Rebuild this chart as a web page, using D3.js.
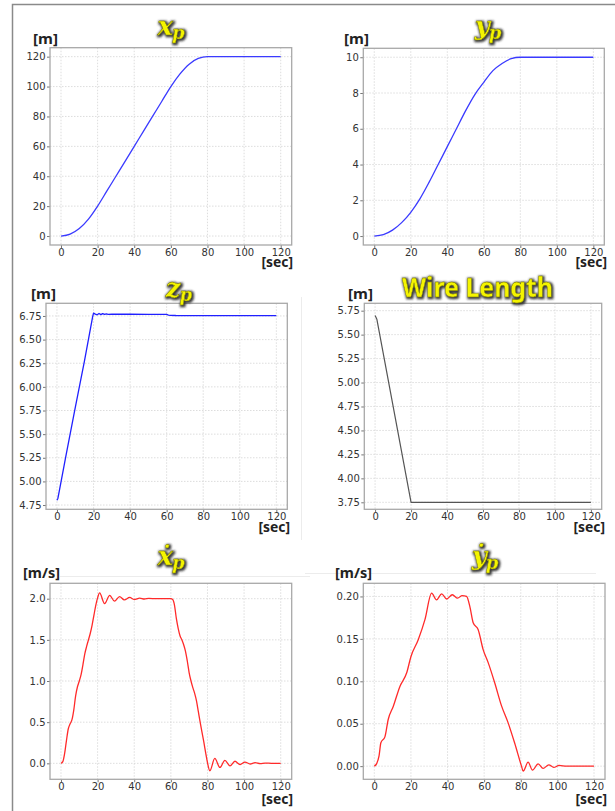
<!DOCTYPE html>
<html>
<head>
<meta charset="utf-8">
<script src="https://cdn.jsdelivr.net/npm/d3@7"></script>
<style>
  html, body { margin: 0; padding: 0; background: #fff; }
  svg { display: block; }
</style>
</head>
<body>
<svg id="chart" width="615" height="811"></svg>
<script>
// ---------------------------------------------
// data
// ---------------------------------------------
const xTicks = [0, 20, 40, 60, 80, 100, 120];

const xpTicks = [0, 20, 40, 60, 80, 100, 120];
const xpTime   = [0, 5, 10, 15, 20, 25, 30, 35, 40, 45, 50, 55, 60, 65, 70, 75, 80, 90, 100, 110, 120];
const xpValues = [0, 1.3, 5, 11.3, 20, 30, 40, 50, 60, 70, 80, 90, 100, 108.5, 115, 118.8, 120, 120, 120, 120, 120];

const ypTicks = [0, 2, 4, 6, 8, 10];
const ypTime   = [0, 5, 10, 15, 20, 25, 30, 35, 40, 45, 50, 55, 60, 65, 70, 75, 80, 90, 100, 110, 120];
const ypValues = [0, 0.08, 0.33, 0.75, 1.33, 2.08, 3.0, 4.0, 5.0, 6.0, 7.0, 7.9, 8.6, 9.25, 9.65, 9.92, 10, 10, 10, 10, 10];

const zpTicks = [4.75, 5.00, 5.25, 5.50, 5.75, 6.00, 6.25, 6.50, 6.75];
const zpTime   = [0, 0.5, 1, 5, 10, 15, 19.5, 20, 21, 22, 23, 24, 25, 26, 27, 28, 30, 35, 40, 50, 60, 61, 62, 65, 80, 100, 120];
const zpValues = [4.80, 4.82, 4.87, 5.28, 5.78, 6.27, 6.74, 6.78, 6.77, 6.762, 6.776, 6.764, 6.775, 6.766, 6.772, 6.767, 6.770, 6.768, 6.768, 6.767, 6.766, 6.760, 6.757, 6.755, 6.754, 6.754, 6.754];

const wireTicks = [3.75, 4.00, 4.25, 4.50, 4.75, 5.00, 5.25, 5.50, 5.75];
const wireTime   = [0, 1, 20, 40, 60, 80, 100, 120];
const wireValues = [5.70, 5.66, 3.75, 3.75, 3.75, 3.75, 3.75, 3.75];

const xpDotTicks = [0.0, 0.5, 1.0, 1.5, 2.0];
const xpDotTime = [0, 1, 2, 3, 4, 5, 6, 7, 8, 9, 10, 11, 12, 13, 14, 15, 16, 17, 18, 19, 20, 21.1, 23.8, 26.6, 29.2, 32, 34.6, 37.5, 40, 43, 45.5, 48, 52, 56, 60, 61, 62, 63, 64, 65, 66, 67, 68, 69, 70, 71, 72, 73, 74, 75, 76, 77, 78, 79, 80, 81.3, 84, 86.8, 89.5, 92.3, 95, 97.8, 100.5, 103.3, 106, 108.8, 111.5, 115, 120];
const xpDotValues = [0, 0.02, 0.12, 0.28, 0.42, 0.48, 0.53, 0.65, 0.82, 0.93, 1.0, 1.08, 1.2, 1.33, 1.42, 1.5, 1.58, 1.68, 1.8, 1.92, 2.01, 2.07, 1.94, 2.04, 1.97, 2.025, 1.985, 2.015, 1.99, 2.008, 1.996, 2.004, 2.0, 2.0, 2.0, 1.99, 1.92, 1.76, 1.64, 1.55, 1.5, 1.44, 1.36, 1.24, 1.1, 1.0, 0.92, 0.85, 0.76, 0.63, 0.5, 0.38, 0.26, 0.13, 0.01, -0.09, 0.06, -0.05, 0.035, -0.03, 0.025, -0.015, 0.015, -0.008, 0.008, -0.004, 0.003, 0, 0];

const ypDotTicks = [0.00, 0.05, 0.10, 0.15, 0.20];
const ypDotTime = [0, 1.3, 2.6, 3.6, 5.8, 7.6, 10.4, 14, 17.7, 20, 24, 27.7, 31.3, 34, 36.8, 39.5, 42.6, 45.5, 48, 50.4, 52.2, 54, 56.7, 59.5, 62.2, 65.8, 69.5, 73.1, 76.7, 80.4, 81.3, 84, 86.4, 89.5, 92.2, 95.3, 98, 100.9, 105, 120];
const ypDotValues = [0, 0.003, 0.012, 0.0275, 0.0345, 0.055, 0.0706, 0.094, 0.110, 0.129, 0.149, 0.173, 0.204, 0.196, 0.203, 0.197, 0.202, 0.198, 0.201, 0.200, 0.188, 0.169, 0.161, 0.137, 0.122, 0.098, 0.071, 0.051, 0.027, 0.0, -0.0059, 0.0047, -0.0047, 0.0027, -0.0027, 0.0016, -0.0015, 0.0008, 0, 0];

// ---------------------------------------------
// layout of the six panels
// ---------------------------------------------
const panels = [
  { box: [50, 47.7, 291.7, 245],   yDomain: [-6, 126],        ticks: xpTicks,    fmt: d3.format("d"),
    t: xpTime, v: xpValues, color: "#3a3aff", lw: 1.3, curve: d3.curveMonotoneX,
    title: { main: "x", sub: "p", cx: 171, y: 34.5 }, unit: "[m]", unitAt: [33, 43.5], secAt: [293, 267] },
  { box: [363.3, 48.3, 604.3, 245], yDomain: [-0.5, 10.5],     ticks: ypTicks,    fmt: d3.format("d"),
    t: ypTime, v: ypValues, color: "#3a3aff", lw: 1.3, curve: d3.curveMonotoneX,
    title: { main: "y", sub: "p", cx: 488, y: 34.5 }, unit: "[m]", unitAt: [344, 43.5], secAt: [607, 267] },
  { box: [46, 303.3, 287.3, 509.3], yDomain: [4.705, 6.884],   ticks: zpTicks,    fmt: d3.format(".2f"),
    t: zpTime, v: zpValues, color: "#2020ff", lw: 1.3, curve: d3.curveLinear,
    title: { main: "z", sub: "p", cx: 179, y: 297 }, unit: "[m]", unitAt: [31, 299], secAt: [290, 532] },
  { box: [364.3, 303.3, 601.7, 509.3], yDomain: [3.677, 5.827], ticks: wireTicks,  fmt: d3.format(".2f"),
    t: wireTime, v: wireValues, color: "#555", lw: 1.2, curve: d3.curveLinear,
    title: { text: "Wire Length", cx: 477.5, y: 297 }, unit: "[m]", unitAt: [348, 299], secAt: [605, 532] },
  { box: [50, 583.3, 291.7, 779.3], yDomain: [-0.194, 2.187],  ticks: xpDotTicks, fmt: d3.format(".1f"),
    t: xpDotTime, v: xpDotValues, color: "#ff2a2a", lw: 1.3, curve: d3.curveMonotoneX,
    title: { main: "\u1E8B", sub: "p", cx: 171, y: 565 }, unit: "[m/s]", unitAt: [23, 578], secAt: [293, 804] },
  { box: [363.3, 583.3, 605, 779.3], yDomain: [-0.0155, 0.2155], ticks: ypDotTicks, fmt: d3.format(".2f"),
    t: ypDotTime, v: ypDotValues, color: "#ff2a2a", lw: 1.3, curve: d3.curveMonotoneX,
    title: { main: "\u1E8F", sub: "p", cx: 485, y: 565 }, unit: "[m/s]", unitAt: [335, 578], secAt: [607, 804] }
];

// widths of the bold unit labels in the picture
const unitWidth = { "[m]": 25, "[m/s]": 37, "[sec]": 31.5 };

const svg = d3.select("#chart");

// title glow filter (yellow text with a dark halo)
const defs = svg.append("defs");
const f = defs.append("filter").attr("id", "glow")
  .attr("x", "-30%").attr("y", "-30%").attr("width", "160%").attr("height", "160%");
f.append("feMorphology").attr("in", "SourceAlpha").attr("operator", "dilate").attr("radius", 1.4).attr("result", "dil");
f.append("feGaussianBlur").attr("in", "dil").attr("stdDeviation", 1.2).attr("result", "blur");
f.append("feFlood").attr("flood-color", "#262626").attr("flood-opacity", 0.9).attr("result", "col");
f.append("feComposite").attr("in", "col").attr("in2", "blur").attr("operator", "in").attr("result", "halo");
f.append("feOffset").attr("in", "halo").attr("dx", 0.6).attr("dy", 1).attr("result", "haloOff");
const m = f.append("feMerge");
m.append("feMergeNode").attr("in", "haloOff");
m.append("feMergeNode").attr("in", "SourceGraphic");

// outer frame of the figure
svg.append("path")
  .attr("d", "M12.5,811 V4.5 H615")
  .attr("fill", "none").attr("stroke", "#8a8a8a").attr("stroke-width", 1.5);

// faint edges of the pasted sub-images
svg.append("path")
  .attr("d", "M301.5,297 V540 M60,576.5 H310 M305,573.5 H596")
  .attr("fill", "none").attr("stroke", "#ececec").attr("stroke-width", 1);

panels.forEach(p => drawPanel(p));

function unitLabel(g, x, y, txt, anchor) {
  g.append("text").attr("x", x).attr("y", y).attr("text-anchor", anchor).text(txt)
    .attr("textLength", unitWidth[txt]).attr("lengthAdjust", "spacingAndGlyphs")
    .style("font-family", "'Noto Sans', sans-serif").style("font-weight", 700)
    .style("font-size", "13.8px").attr("fill", "#222");
}

function drawPanel(p) {
  const [x0, y0, x1, y1] = p.box;
  const x = d3.scaleLinear().domain([-6, 126]).range([x0, x1]);
  const y = d3.scaleLinear().domain(p.yDomain).range([y1, y0]);
  const g = svg.append("g");

  // grid
  g.append("g").selectAll("line").data(xTicks).join("line")
    .attr("x1", d => x(d)).attr("x2", d => x(d)).attr("y1", y0).attr("y2", y1)
    .attr("stroke", "#d4d4d4").attr("stroke-width", 0.8).attr("stroke-dasharray", "1.5,1.5");
  g.append("g").selectAll("line").data(p.ticks).join("line")
    .attr("x1", x0).attr("x2", x1).attr("y1", d => y(d)).attr("y2", d => y(d))
    .attr("stroke", "#d4d4d4").attr("stroke-width", 0.8).attr("stroke-dasharray", "1.5,1.5");

  // axes
  const ax = g.append("g").attr("transform", `translate(0,${y1})`)
    .call(d3.axisBottom(x).tickValues(xTicks).tickFormat(d3.format("d")).tickSize(3).tickPadding(0.5));
  const ay = g.append("g").attr("transform", `translate(${x0},0)`)
    .call(d3.axisLeft(y).tickValues(p.ticks).tickFormat(p.fmt).tickSize(3).tickPadding(1.5));
  [ax, ay].forEach(a => {
    a.select(".domain").remove();
    a.selectAll(".tick line").attr("stroke", "#777");
    a.selectAll(".tick text").attr("fill", "#333")
      .style("font-family", "'DejaVu Sans', sans-serif").style("font-size", "10px");
  });

  // line
  const line = d3.line().x(d => x(d[0])).y(d => y(d[1])).curve(p.curve);
  g.append("path")
    .datum(d3.zip(p.t, p.v))
    .attr("d", line)
    .attr("fill", "none").attr("stroke", p.color).attr("stroke-width", p.lw)
    .attr("stroke-linejoin", "round");

  // box
  g.append("rect")
    .attr("x", x0).attr("y", y0).attr("width", x1 - x0).attr("height", y1 - y0)
    .attr("fill", "none").attr("stroke", "#a8a8a8").attr("stroke-width", 1.3);

  // unit labels
  unitLabel(g, p.unitAt[0], p.unitAt[1], p.unit, "start");
  unitLabel(g, p.secAt[0], p.secAt[1], "[sec]", "end");

  // title
  const t = g.append("text").attr("x", p.title.cx).attr("y", p.title.y)
    .attr("text-anchor", "middle").attr("filter", "url(#glow)")
    .attr("fill", "#f4f400").attr("stroke", "#6a6a00").attr("stroke-width", 0.4);
  if (p.title.text) {
    t.text(p.title.text).attr("textLength", 151).attr("lengthAdjust", "spacingAndGlyphs")
      .style("font-family", "'Noto Sans', sans-serif").style("font-weight", 700).style("font-size", "27px");
  } else {
    t.style("font-family", "'DejaVu Serif', serif").style("font-style", "italic").style("font-weight", 700);
    t.append("tspan").text(p.title.main).style("font-size", "26px");
    t.append("tspan").attr("dy", 4).attr("dx", -1).text(p.title.sub).style("font-size", "18px");
  }
}
</script>
</body>
</html>
